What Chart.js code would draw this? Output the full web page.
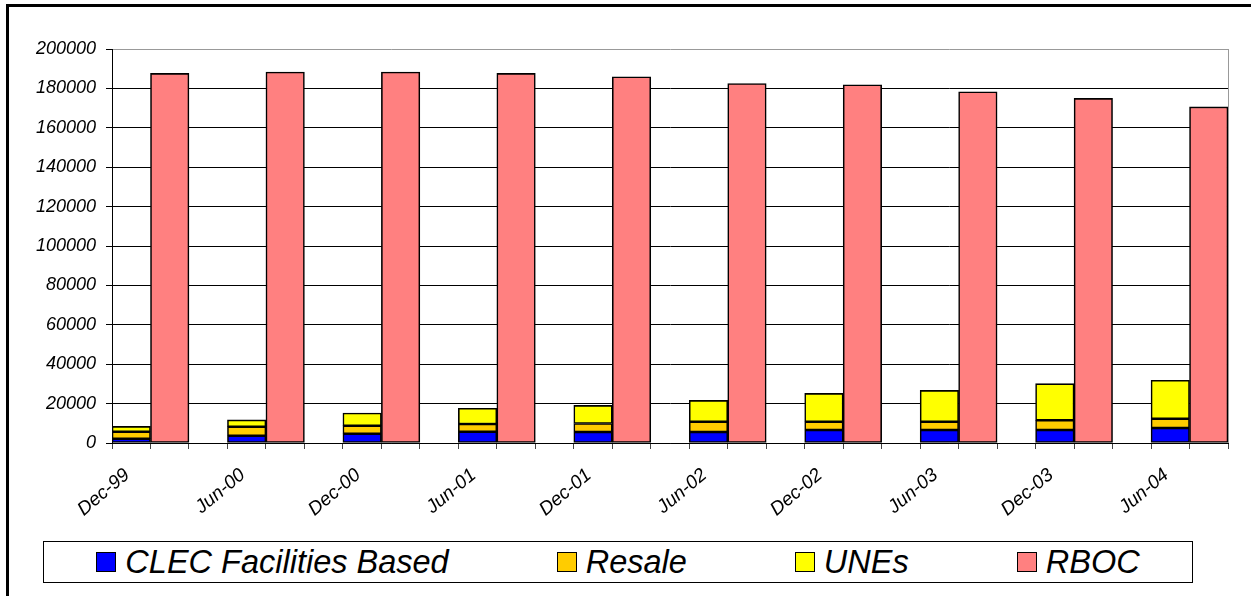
<!DOCTYPE html>
<html>
<head>
<meta charset="utf-8">
<title>Access lines by provider type</title>
<script src="https://cdn.jsdelivr.net/npm/chart.js@4.4.1/dist/chart.umd.min.js"></script>
<style>
  html, body { margin: 0; padding: 0; background: #fff; }
  body { width: 1251px; height: 596px; position: relative; overflow: hidden; }
  #frame {
    position: absolute; left: 6px; top: 4px; width: 1300px; height: 700px;
    border-left: 3px solid #000; border-top: 3px solid #000; box-sizing: border-box;
  }
  #wrap { position: absolute; left: 0; top: 0; width: 1251px; height: 596px; }
  #legend {
    position: absolute; left: 43px; top: 541px; width: 1150px; height: 42px;
    box-sizing: border-box; border: 1px solid #000; background: #fff;
    display: flex; align-items: center; justify-content: center; gap: 108px;
    font-family: "Liberation Sans", Arial, sans-serif; font-style: italic; font-size: 32.5px;
    color: #000;
  }
  .item { display: flex; align-items: center; white-space: nowrap; }
  .swatch { width: 20px; height: 20px; border: 1px solid #000; margin-right: 9px; box-sizing: border-box; }
</style>
</head>
<body>
<div id="frame"></div>
<div id="wrap"><canvas id="chart" width="1251" height="596"></canvas></div>
<div id="legend"></div>
<script>
// Semi-annual reporting dates
const periods = ["Dec-99", "Jun-00", "Dec-00", "Jun-01", "Dec-01", "Jun-02", "Dec-02", "Jun-03", "Dec-03", "Jun-04"];

// Lines by provider type
const clecFacilities = [2200, 3700, 4700, 5700, 5600, 5600, 6600, 6600, 6600, 7600];
const resale         = [3500, 4600, 4100, 3900, 4300, 5200, 4200, 4200, 4900, 4700];
const unes           = [2700, 3400, 6400, 8000, 9200, 10800, 14400, 15900, 18600, 19500];
const rboc           = [187600, 188300, 188300, 187600, 185900, 182500, 181800, 178300, 174900, 170600];

// Y axis
const yMax = 200000;
const yStep = 20000;

// Each period takes three slots on the category axis: CLEC stack, RBOC bar, spacer.
const slotsPerPeriod = 3;
const slotCount = periods.length * slotsPerPeriod - 1;
const slotLabels = [];
for (let i = 0; i < slotCount; i++) {
  slotLabels.push(i % slotsPerPeriod === 0 ? periods[i / slotsPerPeriod] : "");
}
function spread(values, offset) {
  const out = new Array(slotCount).fill(null);
  values.forEach((v, k) => { out[k * slotsPerPeriod + offset] = v; });
  return out;
}

const seriesDefs = [
  { label: "CLEC Facilities Based", values: clecFacilities, color: "#0000FF", slot: 0 },
  { label: "Resale", values: resale, color: "#FFCC00", slot: 0 },
  { label: "UNEs", values: unes, color: "#FFFF00", slot: 0 },
  { label: "RBOC", values: rboc, color: "#FF8080", slot: 1 }
];

Chart.defaults.font.family = '"Liberation Sans", Arial, sans-serif';
Chart.defaults.font.style = 'italic';
Chart.defaults.color = '#000';

// Gray frame on the right edge of the plot area
const plotFrame = {
  id: 'plotFrame',
  beforeDatasetsDraw(chart) {
    const { ctx, chartArea: a } = chart;
    ctx.save();
    ctx.strokeStyle = '#999';
    ctx.lineWidth = 1;
    ctx.beginPath();
    ctx.moveTo(Math.round(a.right) + 0.5, a.top);
    ctx.lineTo(Math.round(a.right) + 0.5, a.bottom);
    ctx.stroke();
    ctx.restore();
  }
};

const chart = new Chart(document.getElementById('chart'), {
  type: 'bar',
  data: {
    labels: slotLabels,
    datasets: seriesDefs.map(s => ({
      label: s.label,
      data: spread(s.values, s.slot),
      backgroundColor: s.color,
      borderColor: '#000',
      borderWidth: 1.6,
      borderSkipped: false,
      barPercentage: 1,
      categoryPercentage: 1
    }))
  },
  options: {
    responsive: false,
    animation: false,
    layout: { padding: { left: 0, right: 23, top: 49, bottom: 0 } },
    plugins: { legend: { display: false }, tooltip: { enabled: false } },
    scales: {
      x: {
        stacked: true,
        offset: true,
        grid: { drawOnChartArea: false, drawTicks: true, tickLength: 6, color: '#444', offset: true },
        border: { color: '#000', width: 1 },
        ticks: {
          autoSkip: false, maxRotation: 40, minRotation: 40,
          font: { size: 19, style: 'italic' }, padding: 15, labelOffset: -4
        },
        afterFit(scale) { scale.height = 153; }
      },
      y: {
        stacked: true,
        min: 0, max: yMax,
        ticks: {
          stepSize: yStep, font: { size: 18, style: 'italic' }, padding: 10,
          callback: v => String(v)
        },
        grid: {
          color: ctx => (ctx.tick && ctx.tick.value === yMax) ? '#999' : '#000',
          tickColor: '#000', tickLength: 6, lineWidth: 1
        },
        border: { color: '#000', width: 1 },
        afterFit(scale) { scale.width = 112; }
      }
    }
  },
  plugins: [plotFrame]
});

// Legend built from the chart's datasets
const legend = document.getElementById('legend');
chart.data.datasets.forEach(ds => {
  const item = document.createElement('div');
  item.className = 'item';
  const sw = document.createElement('span');
  sw.className = 'swatch';
  sw.style.background = ds.backgroundColor;
  const tx = document.createElement('span');
  tx.textContent = ds.label;
  item.appendChild(sw);
  item.appendChild(tx);
  legend.appendChild(item);
});
</script>
</body>
</html>
